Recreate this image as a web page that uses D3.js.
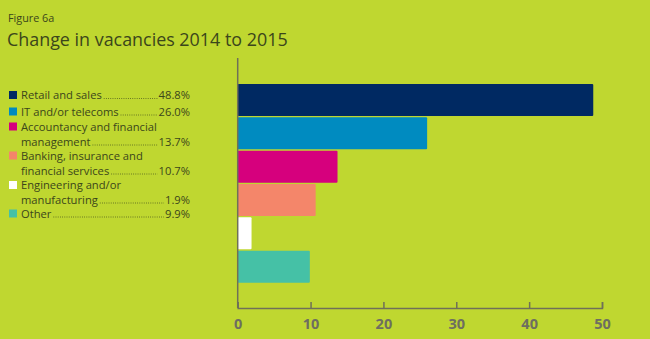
<!DOCTYPE html>
<html><head><meta charset="utf-8">
<script src="https://cdn.jsdelivr.net/npm/d3@7"></script>
<style>
html,body{margin:0;padding:0;background:#bfd730;}
svg{display:block;}
</style></head>
<body>
<svg id="chart" width="650" height="339"></svg>
<script>
const categories = ["Retail and sales","IT and/or telecoms","Accountancy and financial management","Banking, insurance and financial services","Engineering and/or manufacturing","Other"];
const legendLines = [["Retail and sales"],["IT and/or telecoms"],["Accountancy and financial","management"],["Banking, insurance and","financial services"],["Engineering and/or","manufacturing"],["Other"]];
const values = [48.8, 26.0, 13.7, 10.7, 1.9, 9.9];
const valueLabels = ["48.8%","26.0%","13.7%","10.7%","1.9%","9.9%"];
const colors = ["#002962","#008bc0","#d6007d","#f4866a","#ffffff","#45c1a6"];
const ticks = [0,10,20,30,40,50];

const svg = d3.select("#chart");
svg.append("rect").attr("width",650).attr("height",339).attr("fill","#bfd730");

const font = "'Open Sans', 'Noto Sans', sans-serif";
const textCol = "#3b461b";

svg.append("text").attr("x",8).attr("y",22).attr("font-family",font).attr("font-size",10.8).attr("fill",textCol).text("Figure 6a");
svg.append("text").attr("x",7).attr("y",46).attr("font-family",font).attr("font-size",17.9).attr("fill",textCol).text("Change in vacancies 2014 to 2015");

const x = d3.scaleLinear().domain([0,50]).range([237.7,602]);
const y = d3.scaleBand().domain(categories).range([83.3,283.3]).paddingInner(0.04).paddingOuter(0.02);

// bars
svg.selectAll("rect.bar").data(values).enter().append("rect")
  .attr("class","bar")
  .attr("x",x(0))
  .attr("y",(d,i)=>y(categories[i]))
  .attr("width",d=>x(d)-x(0))
  .attr("height",y.bandwidth())
  .attr("rx",1)
  .attr("fill",(d,i)=>colors[i]);

// axes
const axisCol = "#6f7058";
svg.append("line").attr("x1",x(0)).attr("x2",x(0)).attr("y1",58).attr("y2",308).attr("stroke",axisCol).attr("stroke-width",1.5);
const xAxis = d3.axisBottom(x).tickValues(ticks).tickSize(-6).tickPadding(11).tickFormat(d3.format("d"));
const gx = svg.append("g").attr("transform","translate(0,308)").call(xAxis);
gx.select(".domain").attr("stroke",axisCol).attr("stroke-width",1.5);
gx.selectAll(".tick line").attr("stroke",axisCol).attr("stroke-width",1.5);
gx.selectAll(".tick text").attr("fill","#6e6e60").attr("font-family",font).attr("font-weight","bold").attr("font-size",14.5);

// legend
const lineYs = [[95],[111.5],[126.5,141.5],[155.5,170.5],[185,199.5],[213.5]];
const lg = svg.append("g");
legendLines.forEach((lines,i)=>{
  const ys = lineYs[i];
  lg.append("rect").attr("x",9).attr("y",ys[0]-4).attr("width",8).attr("height",8).attr("fill",colors[i]);
  let lastText;
  lines.forEach((t,j)=>{
    lastText = lg.append("text").attr("x",21).attr("y",ys[j]+4).attr("font-family",font).attr("font-size",11.2).attr("fill",textCol).text(t);
  });
  const last = lines.length-1;
  const tw = lastText.node().getComputedTextLength();
  const pct = lg.append("text").attr("x",190).attr("y",ys[last]+4).attr("text-anchor","end").attr("font-family",font).attr("font-size",11.2).attr("fill",textCol).text(valueLabels[i]);
  const pw = pct.node().getComputedTextLength();
  lg.append("line").attr("x1",21+tw+2).attr("x2",190-pw-1).attr("y1",ys[last]+3.5).attr("y2",ys[last]+3.5)
    .attr("stroke",textCol).attr("stroke-width",0.8).attr("stroke-dasharray","0.8,1.4");
});
</script>
</body></html>
